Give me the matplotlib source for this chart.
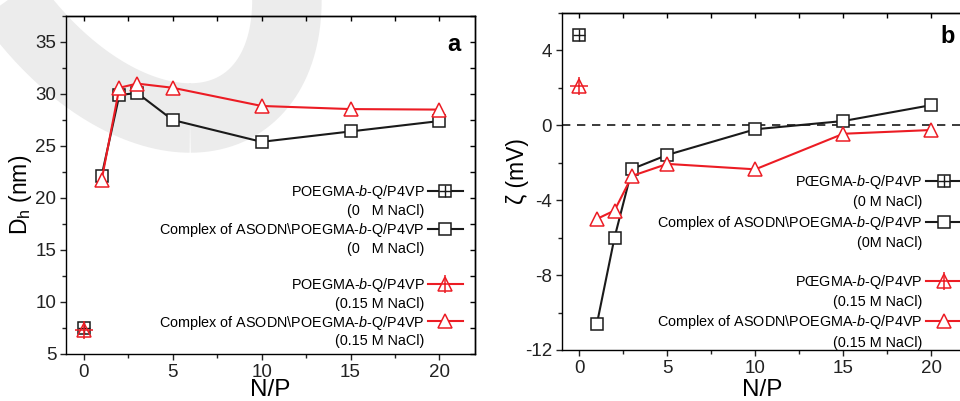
import numpy as np
import matplotlib
matplotlib.use('Agg')
import matplotlib.pyplot as plt
from matplotlib.lines import Line2D
from matplotlib.ticker import MultipleLocator

plt.rcParams['font.family'] = ['Liberation Sans', 'DejaVu Sans']
plt.rcParams['mathtext.fontset'] = 'custom'
plt.rcParams['mathtext.rm'] = 'Liberation Sans'
plt.rcParams['mathtext.it'] = 'Liberation Sans:italic'
plt.rcParams['axes.unicode_minus'] = False
plt.rcParams['axes.linewidth'] = 1.0

black = '#1a1a1a'
red = '#ec1c24'

# --- data ---
np_pure = [0]
np_complex = [1, 2, 3, 5, 10, 15, 20]

dh_pure_0 = [7.5]
dh_pure_015 = [7.3]
dh_complex_0 = [22.1, 29.9, 30.1, 27.5, 25.4, 26.4, 27.4]
dh_complex_015 = [21.7, 30.6, 31.0, 30.6, 28.85, 28.55, 28.5]

zeta_pure_0 = [4.8]
zeta_pure_015 = [2.1]
zeta_complex_0 = [-10.6, -6.0, -2.33, -1.58, -0.21, 0.23, 1.08]
zeta_complex_015 = [-5.0, -4.55, -2.7, -2.06, -2.35, -0.45, -0.25]

labels_a = ['POEGMA-$\\it{b}$-Q/P4VP', '(0   M NaCl)',
            'Complex of ASODN\\POEGMA-$\\it{b}$-Q/P4VP', '(0   M NaCl)', ' ',
            'POEGMA-$\\it{b}$-Q/P4VP', '(0.15 M NaCl)',
            'Complex of ASODN\\POEGMA-$\\it{b}$-Q/P4VP', '(0.15 M NaCl)']
labels_b = ['P\u0152GMA-$\\it{b}$-Q/P4VP', '(0 M NaCl)',
            'Complex of ASODN\\POEGMA-$\\it{b}$-Q/P4VP', '(0M NaCl)', ' ',
            'P\u0152GMA-$\\it{b}$-Q/P4VP', '(0.15 M NaCl)',
            'Complex of ASODN\\POEGMA-$\\it{b}$-Q/P4VP', '(0.15 M NaCl)']

fig = plt.figure(figsize=(9.6, 4.01), dpi=100)
fig.patch.set_facecolor('white')

# light grey watermark ring in the background
t = np.linspace(0, 2 * np.pi, 400)
wx = 117.4 + 72.6 * np.cos(t) + 153.2 * np.sin(t)
wy = -88.3 + 206.3 * np.cos(t)
fig.add_artist(Line2D(wx / 960, (401 - wy) / 401, transform=fig.transFigure,
                      color='#ececec', lw=50, zorder=-5, solid_capstyle='butt'))

ax1 = fig.add_axes([66 / 960, 47 / 401, 409 / 960, 338 / 401])
ax2 = fig.add_axes([561.7 / 960, 51 / 401, 401.3 / 960, 337 / 401])


def draw(ax, y_pure0, y_pure015, y_c0, y_c015):
    ax.set_facecolor('none')
    ax.plot(np_complex, y_c0, color=black, lw=1.5, marker='s', ms=8,
            mfc='white', mec=black, mew=1.1, zorder=3)
    ax.plot(np_complex, y_c015, color=red, lw=1.5, marker='^', ms=10,
            mfc='white', mec=red, mew=1.1, zorder=4)
    ax.plot(np_pure, y_pure0, ls='none', marker='s', ms=8, mfc='white',
            mec=black, mew=1.1, zorder=3)
    ax.plot(np_pure, y_pure0, ls='none', marker='+', ms=8, mec=black,
            mew=1.0, zorder=3)
    ax.plot(np_pure, y_pure015, ls='none', marker='^', ms=10, mfc='none',
            mec=red, mew=1.1, zorder=4)
    ax.plot(np_pure, y_pure015, ls='none', marker='+', ms=13, mec=red,
            mew=1.1, zorder=4)


def legend(ax, labels, anchor, spacing):
    h_p0 = (Line2D([], [], color=black, lw=1.5, marker='s', ms=8, mfc='white', mec=black, mew=1.1),
            Line2D([], [], ls='none', marker='+', ms=8, mec=black, mew=1.0))
    h_c0 = Line2D([], [], color=black, lw=1.5, marker='s', ms=8, mfc='white', mec=black, mew=1.1)
    h_p15 = (Line2D([], [], color=red, lw=1.5, marker='^', ms=10, mfc='white', mec=red, mew=1.1),
             Line2D([], [], ls='none', marker='+', ms=13, mec=red, mew=1.1))
    h_c15 = Line2D([], [], color=red, lw=1.5, marker='^', ms=10, mfc='white', mec=red, mew=1.1)
    blank = Line2D([], [], color='none')
    handles = [h_p0, blank, h_c0, blank, blank, h_p15, blank, h_c15, blank]
    ax.legend(handles, labels, loc='upper right', bbox_to_anchor=anchor,
              frameon=False, markerfirst=False, fontsize=10.4,
              handlelength=2.4, handletextpad=0.25, labelspacing=spacing,
              borderpad=0, borderaxespad=0)


def ticks(ax, xmaj, xmin, ymaj, ymin, right=True):
    ax.xaxis.set_major_locator(MultipleLocator(xmaj))
    ax.xaxis.set_minor_locator(MultipleLocator(xmin))
    ax.yaxis.set_major_locator(MultipleLocator(ymaj))
    ax.yaxis.set_minor_locator(MultipleLocator(ymin))
    ax.tick_params(which='both', direction='out', top=False, right=False,
                   labelsize=13.5, width=1.0, pad=3, colors='#222222')
    ax.tick_params(which='major', length=4)
    ax.tick_params(which='minor', length=3)
    # inward ticks on top (and right) edge
    top = ax.secondary_xaxis('top')
    top.xaxis.set_major_locator(MultipleLocator(xmaj))
    top.xaxis.set_minor_locator(MultipleLocator(xmin))
    top.tick_params(which='both', direction='in', length=3.5, width=1.0, labeltop=False)
    if right:
        rgt = ax.secondary_yaxis('right')
        rgt.yaxis.set_major_locator(MultipleLocator(ymaj))
        rgt.yaxis.set_minor_locator(MultipleLocator(ymin))
        rgt.tick_params(which='both', direction='in', length=3.5, width=1.0, labelright=False)


# panel a
draw(ax1, dh_pure_0, dh_pure_015, dh_complex_0, dh_complex_015)
ax1.set_xlim(-1, 22)
ax1.set_ylim(5, 37.5)
ticks(ax1, 5, 2.5, 5, 2.5)
ax1.set_xlabel('N/P', fontsize=17.5)
ax1.set_ylabel('D$_\\mathrm{h}$ (nm)', fontsize=16.5)
ax1.xaxis.set_label_coords(0.5, -0.075)
ax1.yaxis.set_label_coords(-0.078, 0.47)
ax1.text(0.949, 0.917, 'a', transform=ax1.transAxes, fontsize=17,
         fontweight='bold', ha='center', va='center')
legend(ax1, labels_a, (0.97, 0.505), 0.2)

# panel b
draw(ax2, zeta_pure_0, zeta_pure_015, zeta_complex_0, zeta_complex_015)
ax2.axhline(0, color=black, lw=1.2, ls=(0, (5, 4)), zorder=1)
ax2.set_xlim(-1, 21.8)
ax2.set_ylim(-12, 6)
ticks(ax2, 5, 2.5, 4, 2, right=False)
ax2.set_xlabel('N/P', fontsize=17.5)
ax2.set_ylabel('\u03b6 (mV)', fontsize=16.5)
ax2.xaxis.set_label_coords(0.5, -0.085)
ax2.yaxis.set_label_coords(-0.082, 0.53)
ax2.text(0.963, 0.929, 'b', transform=ax2.transAxes, fontsize=17,
         fontweight='bold', ha='center', va='center')
legend(ax2, labels_b, (0.995, 0.525), 0.3)

fig.savefig('out.png', dpi=100)
